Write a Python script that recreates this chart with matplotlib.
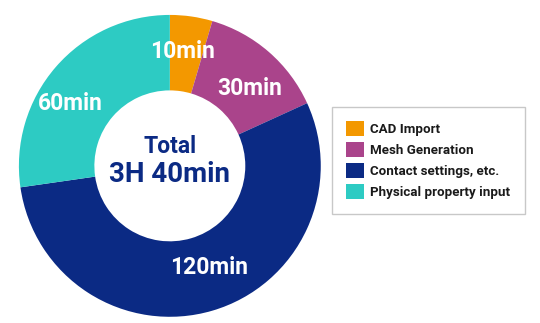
import numpy as np
from matplotlib import pyplot as plt

# dati
categorie = ["CAD Import", "Mesh Generation", "Contact settings, etc.", "Physical property input"]
minuti = [10, 30, 120, 60]
etichette = ["10min", "30min", "120min", "60min"]
colori = ["#F39800", "#AA448B", "#0B2A84", "#2DCBC3"]

# posizione etichette (raggio, spostamento angolare in gradi)
raggi_etichette = [0.76, 0.74, 0.72, 0.78]
spost_angolo = [2, -5, 5, 9]

plt.rcParams['font.family'] = ['Roboto', 'DejaVu Sans']

fig = plt.figure(figsize=(5.4, 3.23), dpi=100)
ax = fig.add_axes([0.035, 0.019, 0.559, 0.935])

wedges, _ = ax.pie(minuti, colors=colori, startangle=90, counterclock=False,
                   wedgeprops=dict(width=0.5, linewidth=0))
ax.set_xlim(-1, 1)
ax.set_ylim(-1, 1)
ax.set_aspect('equal')

for w, txt, r, da in zip(wedges, etichette, raggi_etichette, spost_angolo):
    ang = np.deg2rad((w.theta1 + w.theta2) / 2 + da)
    ax.text(r * np.cos(ang), r * np.sin(ang), txt, ha='center', va='center',
            color='white', fontsize=16.5, fontweight='bold')

# testo centrale
ax.text(0, 0.125, "Total", ha='center', va='center', color="#0B2A84",
        fontsize=16.5, fontweight='bold')
ax.text(0, -0.06, "3H 40min", ha='center', va='center', color="#0B2A84",
        fontsize=20, fontweight='bold')

leg = fig.legend(wedges, categorie, loc='upper left', bbox_to_anchor=(0.602, 0.69),
                 frameon=True, fancybox=False, edgecolor='#bbbbbb', fontsize=9.6,
                 handlelength=1.3, handleheight=1.3, labelspacing=0.47,
                 borderpad=1.1, handletextpad=0.5)
for t in leg.get_texts():
    t.set_fontweight('bold')
    t.set_color('#1a1a1a')

plt.savefig("out.png", dpi=100)
